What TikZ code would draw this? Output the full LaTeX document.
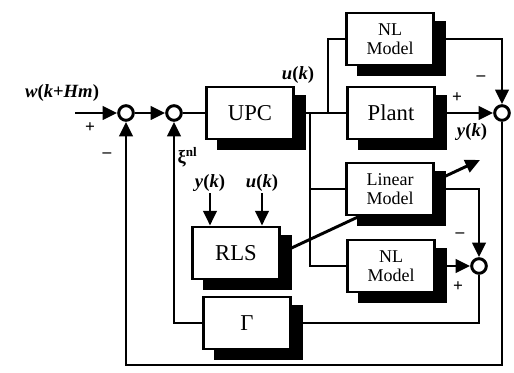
\documentclass[tikz,border=0pt]{standalone}
\usepackage{fontspec}
\setmainfont{Liberation Serif}
\usepackage{tikz}
\usetikzlibrary{arrows.meta, positioning, backgrounds}

\begin{document}
\begin{tikzpicture}[x=0.75pt, y=-0.75pt,
    blk/.style={rectangle, draw=black, line width=2.2pt, fill=white,
                minimum width=65pt, minimum height=39pt, inner sep=0pt,
                preaction={fill=black, draw=black,
                           transform canvas={shift={(8.5pt,-7pt)}}},
                font=\fontsize{17}{19}\selectfont},
    mdl/.style={blk, align=center, font=\fontsize{13.5}{14.5}\selectfont},
    sum/.style={circle, draw=black, line width=2.2pt, fill=white,
                minimum size=11pt, inner sep=0pt},
    arr/.style={-{Triangle[length=11pt, width=10pt]}, line width=2.2pt},
    ln/.style={line width=2.2pt},
    sig/.style={font=\bfseries\fontsize{14}{16}\selectfont, inner sep=1pt},
    pm/.style={font=\bfseries\fontsize{13}{15}\selectfont, inner sep=0pt}]

    \useasboundingbox (0,0) rectangle (514,373);

    % blocks
    \node[blk] (upc)   at (250,113) {UPC};
    \node[mdl] (nl1)   at (390,39)  {NL\\Model};
    \node[blk] (plant) at (391,113) {Plant};
    \node[mdl] (lin)   at (390,189) {Linear\\Model};
    \node[mdl] (nl2)   at (391,266) {NL\\Model};
    \node[blk] (rls)   at (236,253) {RLS};
    \node[blk] (gam)   at (247,323) {Γ};

    % summing points
    \node[sum] (s1) at (126,113) {};
    \node[sum] (s2) at (174,113) {};
    \node[sum] (s3) at (502,113) {};
    \node[sum] (s4) at (479,266) {};

    \coordinate (in)  at (75,113);
    \coordinate (b1)  at (310,113);
    \coordinate (b2)  at (328,113);
    \coordinate (bot) at (126,365);
    \coordinate (tip) at (480,160);

    % signals
    \draw[arr] (in) -- (s1);
    \draw[arr] (s1) -- (s2);
    \draw[ln] (s2) -- (upc);
    \draw[ln] (upc) -- (plant);
    \draw[ln] (b2) |- (nl1.west);
    \draw[arr] (nl1.east) -| (s3.north);
    \draw[arr] (plant) -- (s3);
    \draw[ln] (b1) |- (nl2.west);
    \draw[ln] (b1 |- lin.west) -- (lin.west);
    \draw[arr] (lin.east) -| (s4.north);
    \draw[arr] (nl2) -- (s4);
    \draw[ln] (s4.south) |- (gam.east);
    \draw[arr] (gam.west) -| (s2.south);
    \draw[arr] (s3.south) |- (bot) -- (s1.south);

    \begin{scope}[on background layer]
      \draw[arr] (rls.east) -- (tip);
    \end{scope}

    % labels
    \node[sig] (wlbl) at (62,93)  {\textit{w}(\textit{k}+\textit{Hm})};
    \node[pm] at (90,128)  {+};
    \node[pm] at (107,155) {–};
    \node[sig, anchor=west] (xi) at (176,157) {ξ\textsuperscript{nl}};
    \node[sig] (ulbl) at (298,75)  {\textit{u}(\textit{k})};
    \node[pm] at (457,98)  {+};
    \node[pm] at (481,78)  {–};
    \node[sig] (ylbl) at (472,132) {\textit{y}(\textit{k})};
    \node[pm] at (460,235) {–};
    \node[pm] at (458,287) {+};

    \node[sig] (yk) at (210,183) {\textit{y}(\textit{k})};
    \node[sig] (uk) at (262,183) {\textit{u}(\textit{k})};
    \draw[arr] (yk.south) -- (yk.south |- rls.north);
    \draw[arr] (uk.south) -- (uk.south |- rls.north);
\end{tikzpicture}
\end{document}
